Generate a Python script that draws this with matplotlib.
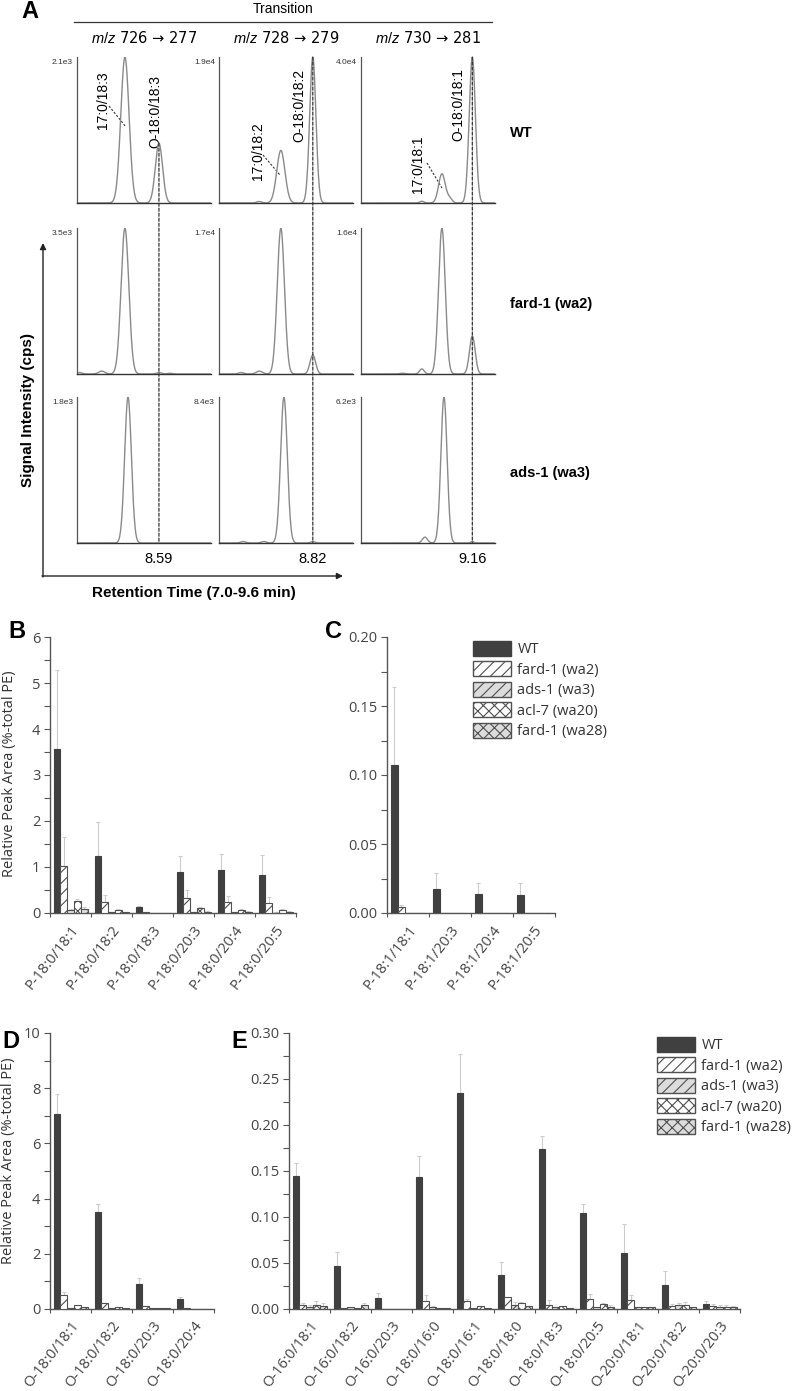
import numpy as np
import matplotlib
matplotlib.use("Agg")
import matplotlib.pyplot as plt
from matplotlib.patches import ConnectionPatch, Patch
from matplotlib.ticker import MultipleLocator, FormatStrFormatter
import matplotlib.transforms as mtransforms

W, H = 792, 1391

plt.rcParams['font.family'] = ['Liberation Sans', 'DejaVu Sans']
plt.rcParams['mathtext.fontset'] = 'custom'
plt.rcParams['mathtext.it'] = 'Liberation Sans:italic'
plt.rcParams['mathtext.rm'] = 'Liberation Sans'
plt.rcParams['hatch.linewidth'] = 0.8

# ---------------- panel A: MRM chromatograms ----------------
transitions = [('726', '277'), ('728', '279'), ('730', '281')]
ether_rt = [8.59, 8.82, 9.16]
strains = ['WT', 'fard-1 (wa2)', 'ads-1 (wa3)']
scales = [['2.1e3', '1.9e4', '4.0e4'],
          ['3.5e3', '1.7e4', '1.6e4'],
          ['1.8e3', '8.4e3', '6.2e3']]
# peaks: (retention time min, relative height, width sigma)
peaks_wt = [[(7.93, 1.00, 0.08), (8.59, 0.41, 0.07)],
            [(7.78, 0.01, 0.05), (8.20, 0.36, 0.08), (8.82, 1.00, 0.06)],
            [(8.18, 0.012, 0.04), (8.57, 0.20, 0.065), (8.72, 0.03, 0.05), (9.16, 1.00, 0.06)]]
peaks_wa2 = [[(7.05, 0.01, 0.05), (7.48, 0.02, 0.06), (7.93, 1.00, 0.075), (8.59, 0.01, 0.05), (8.80, 0.005, 0.05)],
             [(7.43, 0.01, 0.05), (7.78, 0.02, 0.06), (8.20, 1.00, 0.07), (8.82, 0.13, 0.055)],
             [(7.80, 0.005, 0.05), (8.18, 0.035, 0.045), (8.57, 1.00, 0.065), (9.16, 0.26, 0.055)]]
peaks_wa3 = [[(7.99, 1.00, 0.065)],
             [(7.47, 0.01, 0.05), (7.87, 0.01, 0.05), (8.26, 1.00, 0.065), (8.82, 0.01, 0.04)],
             [(8.24, 0.04, 0.05), (8.61, 1.00, 0.06), (9.16, 0.01, 0.03)]]
peaks_all = [peaks_wt, peaks_wa2, peaks_wa3]
peak_names = [('17:0/18:3', 'O-18:0/18:3'), ('17:0/18:2', 'O-18:0/18:2'), ('17:0/18:1', 'O-18:0/18:1')]

# ---------------- panels B-E: relative peak areas ----------------
genotypes = ['WT', 'fard-1 (wa2)', 'ads-1 (wa3)', 'acl-7 (wa20)', 'fard-1 (wa28)']

b_labels = ['P-18:0/18:1', 'P-18:0/18:2', 'P-18:0/18:3', 'P-18:0/20:3', 'P-18:0/20:4', 'P-18:0/20:5']
b_wt = [3.56, 1.24, 0.12, 0.89, 0.93, 0.83]
b_wa2 = [1.02, 0.24, 0.03, 0.32, 0.24, 0.22]
b_wa3 = [0.06, 0.02, 0.0, 0.02, 0.02, 0.01]
b_wa20 = [0.26, 0.06, 0.0, 0.10, 0.07, 0.06]
b_wa28 = [0.08, 0.02, 0.0, 0.03, 0.03, 0.03]
b_wt_err = [1.72, 0.74, 0.03, 0.34, 0.35, 0.43]
b_wa2_err = [0.63, 0.16, 0.0, 0.17, 0.12, 0.13]
b_wa3_err = [0.02, 0.01, 0.0, 0.01, 0.01, 0.01]
b_wa20_err = [0.05, 0.02, 0.0, 0.02, 0.02, 0.02]
b_wa28_err = [0.05, 0.01, 0.0, 0.01, 0.01, 0.01]

c_labels = ['P-18:1/18:1', 'P-18:1/20:3', 'P-18:1/20:4', 'P-18:1/20:5']
c_wt = [0.107, 0.0175, 0.0135, 0.013]
c_wa2 = [0.004, 0.0, 0.0, 0.0]
c_wa3 = [0.0, 0.0, 0.0, 0.0]
c_wa20 = [0.0, 0.0, 0.0, 0.0]
c_wa28 = [0.0, 0.0, 0.0, 0.0]
c_wt_err = [0.057, 0.0115, 0.0085, 0.009]
c_wa2_err = [0.002, 0.0, 0.0, 0.0]

d_labels = ['O-18:0/18:1', 'O-18:0/18:2', 'O-18:0/20:3', 'O-18:0/20:4']
d_wt = [7.08, 3.53, 0.92, 0.37]
d_wa2 = [0.52, 0.20, 0.10, 0.03]
d_wa3 = [0.05, 0.04, 0.02, 0.01]
d_wa20 = [0.15, 0.08, 0.04, 0.01]
d_wa28 = [0.07, 0.03, 0.02, 0.01]
d_wt_err = [0.72, 0.27, 0.20, 0.08]
d_wa2_err = [0.08, 0.03, 0.02, 0.0]

e_labels = ['O-16:0/18:1', 'O-16:0/18:2', 'O-16:0/20:3', 'O-18:0/16:0', 'O-18:0/16:1', 'O-18:0/18:0',
            'O-18:0/18:3', 'O-18:0/20:5', 'O-20:0/18:1', 'O-20:0/18:2', 'O-20:0/20:3']
e_wt = [0.145, 0.047, 0.012, 0.143, 0.235, 0.037, 0.174, 0.104, 0.061, 0.026, 0.005]
e_wa2 = [0.004, 0.001, 0.0005, 0.009, 0.009, 0.013, 0.004, 0.011, 0.010, 0.003, 0.003]
e_wa3 = [0.002, 0.002, 0.0005, 0.002, 0.001, 0.004, 0.002, 0.002, 0.002, 0.004, 0.002]
e_wa20 = [0.004, 0.001, 0.0005, 0.001, 0.003, 0.006, 0.003, 0.005, 0.002, 0.004, 0.002]
e_wa28 = [0.003, 0.004, 0.0005, 0.001, 0.001, 0.003, 0.001, 0.002, 0.002, 0.002, 0.002]
e_wt_err = [0.014, 0.015, 0.005, 0.023, 0.042, 0.014, 0.014, 0.010, 0.031, 0.015, 0.004]
e_wa2_err = [0.002, 0.0, 0.0, 0.006, 0.002, 0.0, 0.006, 0.005, 0.005, 0.002, 0.002]
e_wa3_err = [0.002, 0.0, 0.0, 0.001, 0.0, 0.004, 0.0, 0.0, 0.0, 0.003, 0.002]
e_wa20_err = [0.005, 0.0, 0.0, 0.0, 0.0, 0.002, 0.0, 0.001, 0.0, 0.004, 0.002]
e_wa28_err = [0.004, 0.003, 0.0, 0.0, 0.0, 0.0, 0.0, 0.002, 0.0, 0.0, 0.001]

styles = [dict(fc='#404040', hatch=None, ec='#404040'),
          dict(fc='white', hatch='///', ec='#505050'),
          dict(fc='#dcdcdc', hatch='///', ec='#505050'),
          dict(fc='white', hatch='xxx', ec='#505050'),
          dict(fc='#dcdcdc', hatch='xxx', ec='#505050')]

SANS2 = ['Open Sans', 'DejaVu Sans']
GRAY = '#444444'


def px_axes(fig, x0, y0, x1, y1):
    return fig.add_axes([x0 / W, 1 - y1 / H, (x1 - x0) / W, (y1 - y0) / H])


fig = plt.figure(figsize=(W / 100, H / 100), dpi=100)

# overlay in pixel coordinates for annotations
ov = fig.add_axes([0, 0, 1, 1])
ov.set_xlim(0, W)
ov.set_ylim(H, 0)
ov.axis('off')
ov.patch.set_visible(False)

ov.text(30, 12, 'A', fontsize=17, fontweight='bold', ha='center', va='center')
ov.text(283, 9, 'Transition', fontsize=10, ha='center', va='center')
ov.plot([74, 492], [22, 22], color='#333333', lw=0.9)

t = np.linspace(7.0, 9.6, 800)
col_left = [77, 219, 361]
row_top = [57, 228, 397]
aw, ah = 134, 146
axes_a = [[None] * 3 for _ in range(3)]


def trace(peaks, tt):
    y = np.zeros_like(tt, dtype=float)
    for rt, h, s in peaks:
        y = y + h * np.exp(-0.5 * ((tt - rt) / s) ** 2)
    return y


for r in range(3):
    for c in range(3):
        ax = px_axes(fig, col_left[c], row_top[r], col_left[c] + aw, row_top[r] + ah)
        axes_a[r][c] = ax
        ax.plot(t, trace(peaks_all[r][c], t), color='#8a8a8a', lw=1.0)
        ax.set_xlim(7.0, 9.6)
        ax.set_ylim(0, 1.0)
        for s in ['top', 'right']:
            ax.spines[s].set_visible(False)
        ax.spines['left'].set_color('#555555')
        ax.spines['left'].set_linewidth(0.9)
        ax.spines['bottom'].set_color('#333333')
        ax.spines['bottom'].set_linewidth(1.0)
        ax.set_xticks([])
        ax.set_yticks([])
        ax.patch.set_visible(False)
        ax.text(-0.03, 0.985, scales[r][c], transform=ax.transAxes, fontsize=6,
                ha='right', va='top', color='#333333')

for c in range(3):
    ax = axes_a[0][c]
    src, prod = transitions[c]
    ax.text(0.5, 1.13, '$m/z$ %s → %s' % (src, prod), transform=ax.transAxes,
            fontsize=10.5, ha='center', va='center', family=['DejaVu Sans'])
    rt = ether_rt[c]
    ytop = trace(peaks_all[0][c], np.array([rt]))[0]
    con = ConnectionPatch(xyA=(rt, ytop), coordsA=ax.transData,
                          xyB=(rt, 0), coordsB=axes_a[2][c].transData,
                          linestyle=(0, (2.5, 1.5)), color='#333333', lw=0.9)
    fig.add_artist(con)
    bax = axes_a[2][c]
    trans = mtransforms.blended_transform_factory(bax.transData, bax.transAxes)
    bax.text(rt, -0.11, '%.2f' % rt, transform=trans, fontsize=10.5, ha='center', va='center')

# peak labels with dashed leaders
ov.text(103, 100, peak_names[0][0], rotation=90, fontsize=10, ha='center', va='center')
ov.plot([109, 126], [106, 127], ls=(0, (2, 1.5)), color='#333333', lw=0.8)
ov.text(155, 111, peak_names[0][1], rotation=90, fontsize=10, ha='center', va='center')
ov.text(258, 151, peak_names[1][0], rotation=90, fontsize=10, ha='center', va='center')
ov.plot([263, 280], [155, 175], ls=(0, (2, 1.5)), color='#333333', lw=0.8)
ov.text(299, 105, peak_names[1][1], rotation=90, fontsize=10, ha='center', va='center')
ov.text(418, 164, peak_names[2][0], rotation=90, fontsize=10, ha='center', va='center')
ov.plot([427, 442], [163, 188], ls=(0, (2, 1.5)), color='#333333', lw=0.8)
ov.text(458, 105, peak_names[2][1], rotation=90, fontsize=10, ha='center', va='center')

for r in range(3):
    ov.text(510, row_top[r] + 76, strains[r], fontsize=10.5, fontweight='bold', ha='left', va='center')

# big axes arrows
ov.annotate('', xy=(43, 243), xytext=(43, 577),
            arrowprops=dict(arrowstyle='-|>', color='#222222', lw=1.0, mutation_scale=9, shrinkA=0, shrinkB=0))
ov.annotate('', xy=(343, 576), xytext=(42, 576),
            arrowprops=dict(arrowstyle='-|>', color='#222222', lw=1.0, mutation_scale=9, shrinkA=0, shrinkB=0))
ov.text(28, 410, 'Signal Intensity (cps)', rotation=90, fontsize=11, fontweight='bold',
        ha='center', va='center')
ov.text(194, 593, 'Retention Time (7.0-9.6 min)', fontsize=11, fontweight='bold',
        ha='center', va='center')


def bar_panel(ax, labels, series, errors, ymax, major, minor, fmt):
    n = len(labels)
    x = np.arange(n)
    width = 0.165
    for k in range(len(series)):
        st = styles[k]
        vals = np.array(series[k], dtype=float)
        pos = x + 0.09 + k * width
        ax.bar(pos, vals, width, align='edge', color=st['fc'], hatch=st['hatch'],
               edgecolor=st['ec'], linewidth=0.8, zorder=3)
        errs = errors[k]
        if errs is None:
            continue
        errs = np.array(errs, dtype=float)
        m = errs > 0
        if m.any():
            ax.errorbar(pos[m] + width / 2, vals[m], yerr=[np.zeros(m.sum()), errs[m]],
                        fmt='none', ecolor='#cccccc', elinewidth=0.8, capsize=1.5,
                        capthick=0.8, zorder=2)
    ax.set_xlim(0, n)
    ax.set_ylim(0, ymax)
    for s in ['top', 'right']:
        ax.spines[s].set_visible(False)
    for s in ['left', 'bottom']:
        ax.spines[s].set_color('#555555')
        ax.spines[s].set_linewidth(1.0)
    ax.yaxis.set_major_locator(MultipleLocator(major))
    ax.yaxis.set_minor_locator(MultipleLocator(minor))
    ax.yaxis.set_major_formatter(FormatStrFormatter(fmt))
    ax.tick_params(axis='y', which='both', direction='out', length=4, width=0.8,
                   colors='#555555', labelcolor=GRAY, labelsize=10.5, pad=3)
    ax.set_xticks(x + 0.5)
    ax.set_xticklabels(labels, rotation=52, ha='right', rotation_mode='anchor',
                       fontsize=10.5, color=GRAY, family=SANS2)
    ax.set_xticks(np.arange(n + 1), minor=True)
    ax.tick_params(axis='x', which='major', length=0, pad=7)
    ax.tick_params(axis='x', which='minor', direction='out', length=3, width=0.8, colors='#555555')
    for lab in ax.get_yticklabels():
        lab.set_family(SANS2)
    ax.patch.set_visible(False)


def add_legend(ax, x0, y0):
    handles = [Patch(facecolor=st['fc'], hatch=st['hatch'], edgecolor=st['ec'], linewidth=1.0)
               for st in styles]
    leg = ax.legend(handles, genotypes, loc='upper left', bbox_to_anchor=(x0 / W, 1 - y0 / H),
                    bbox_transform=fig.transFigure, frameon=False,
                    prop=dict(family=SANS2, size=10.5), handlelength=2.6, handleheight=1.2,
                    labelspacing=0.28, handletextpad=0.45, borderpad=0, borderaxespad=0)
    for txt in leg.get_texts():
        txt.set_color('#333333')


ax_b = px_axes(fig, 50, 637, 296, 913)
bar_panel(ax_b, b_labels, [b_wt, b_wa2, b_wa3, b_wa20, b_wa28],
          [b_wt_err, b_wa2_err, b_wa3_err, b_wa20_err, b_wa28_err], 6, 1, 0.5, '%d')

ax_c = px_axes(fig, 387, 637, 555, 913)
bar_panel(ax_c, c_labels, [c_wt, c_wa2, c_wa3, c_wa20, c_wa28],
          [c_wt_err, c_wa2_err, None, None, None], 0.20, 0.05, 0.025, '%.2f')
add_legend(ax_c, 473, 641)

ax_d = px_axes(fig, 50, 1033, 214, 1309)
bar_panel(ax_d, d_labels, [d_wt, d_wa2, d_wa3, d_wa20, d_wa28],
          [d_wt_err, d_wa2_err, None, None, None], 10, 2, 1, '%d')

ax_e = px_axes(fig, 289, 1033, 740, 1309)
bar_panel(ax_e, e_labels, [e_wt, e_wa2, e_wa3, e_wa20, e_wa28],
          [e_wt_err, e_wa2_err, e_wa3_err, e_wa20_err, e_wa28_err], 0.30, 0.05, 0.025, '%.2f')
add_legend(ax_e, 657, 1037)

for lbl, x, y in [('B', 17, 632), ('C', 334, 632), ('D', 11, 1042), ('E', 239, 1042)]:
    ov.text(x, y, lbl, fontsize=17, fontweight='bold', ha='center', va='center')

ov.text(10, 774, 'Relative Peak Area (%-total PE)', rotation=90, fontsize=10.5,
        family=SANS2, color='#333333', ha='center', va='center')
ov.text(9, 1161, 'Relative Peak Area (%-total PE)', rotation=90, fontsize=10.5,
        family=SANS2, color='#333333', ha='center', va='center')

fig.savefig('out.png', dpi=100)
